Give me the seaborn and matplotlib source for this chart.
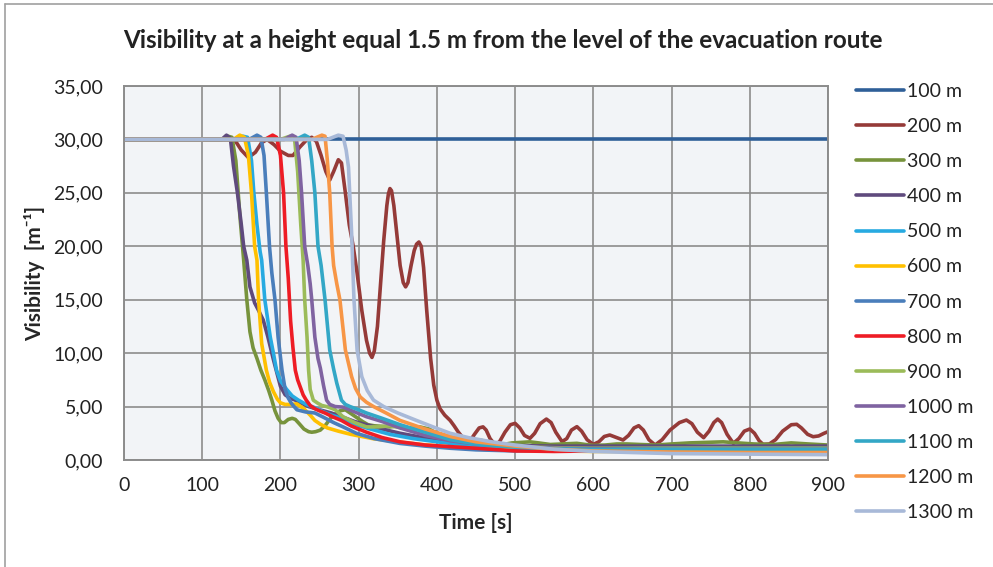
import matplotlib
matplotlib.use("Agg")
import matplotlib.pyplot as plt
from matplotlib.lines import Line2D
import seaborn as sns
import pandas as pd

# ---------------- data (time [s], visibility [m^-1]) ----------------
labels = ["100 m", "200 m", "300 m", "400 m", "500 m", "600 m", "700 m",
          "800 m", "900 m", "1000 m", "1100 m", "1200 m", "1300 m"]

s100 = [(0, 30), (300, 30), (600, 30), (900, 30)]

s200 = [(0, 30), (135, 30), (142, 29.9), (150, 29.0), (159, 28.3), (168, 28.8), (176, 29.7),
        (183, 30.0), (192, 29.5), (200, 28.9), (210, 28.5), (216, 28.5), (225, 29.3), (234, 30.0),
        (240, 30.2), (246, 29.8), (252, 28.5), (258, 27.0), (263, 26.2), (268, 27.0), (274, 28.1),
        (278, 27.8), (283, 25.0), (288, 22.0), (293, 20.0), (298, 17.5), (304, 14.0), (310, 11.2),
        (314, 10.0), (317, 9.6), (320, 10.2), (324, 12.5), (328, 16.5), (332, 20.5), (336, 23.8),
        (338, 24.9), (340, 25.4), (342, 25.2), (345, 23.8), (349, 21.0), (353, 18.2), (357, 16.6),
        (360, 16.2), (363, 16.6), (367, 18.2), (371, 19.6), (374, 20.2), (377, 20.4), (380, 20.0),
        (383, 18.0), (387, 14.0), (392, 9.5), (396, 7.0), (400, 5.6), (404, 4.8), (410, 4.2),
        (417, 3.7), (422, 3.2), (427, 2.65), (433, 2.1), (438, 1.7), (443, 1.85), (448, 2.4),
        (454, 3.0), (459, 3.1), (463, 2.8), (468, 2.0), (474, 1.46), (480, 1.7), (487, 2.6),
        (494, 3.3), (500, 3.43), (506, 3.0), (512, 2.3), (519, 2.03), (525, 2.5), (532, 3.4),
        (540, 3.83), (546, 3.5), (552, 2.6), (560, 1.72), (566, 2.0), (572, 2.8), (579, 3.12),
        (585, 2.7), (592, 1.9), (600, 1.46), (607, 1.7), (614, 2.2), (621, 2.34), (628, 2.15),
        (638, 1.87), (645, 2.3), (652, 3.0), (658, 3.21), (664, 2.8), (671, 1.9), (679, 1.4),
        (688, 1.9), (698, 2.8), (710, 3.5), (719, 3.74), (726, 3.4), (733, 2.6), (741, 2.09),
        (748, 2.7), (754, 3.5), (759, 3.83), (764, 3.5), (771, 2.4), (779, 1.56), (786, 2.0),
        (793, 2.7), (800, 2.9), (806, 2.5), (812, 1.8), (817, 1.46), (825, 1.5), (833, 1.9),
        (842, 2.7), (853, 3.3), (860, 3.34), (866, 3.0), (874, 2.4), (881, 2.18), (888, 2.25),
        (895, 2.5), (900, 2.65)]

s300 = [(0, 30), (125, 30), (133, 30.3), (138, 30.2), (143, 28), (148, 23), (153, 18.7),
        (157, 15), (161, 12), (165, 10.5), (170, 9.5), (175, 8.4), (180, 7.5), (185, 6.5),
        (189, 5.6), (193, 4.6), (197, 3.9), (201, 3.5), (205, 3.5), (210, 3.8), (215, 3.9),
        (219, 3.8), (224, 3.4), (230, 2.9), (236, 2.65), (240, 2.6), (245, 2.65), (251, 2.8),
        (258, 3.3), (264, 3.9), (270, 4.3), (276, 4.6), (283, 4.7), (289, 4.4), (297, 4.0),
        (305, 3.6), (312, 3.3), (320, 3.2), (330, 3.15), (340, 3.1), (350, 3.2), (360, 2.9),
        (368, 2.8), (378, 3.1), (390, 2.9), (400, 2.5), (410, 2.3), (420, 2.1), (430, 2.0),
        (441, 1.9), (455, 1.87), (465, 1.7), (474, 1.4), (485, 1.45), (496, 1.6), (508, 1.65),
        (519, 1.7), (530, 1.6), (545, 1.45), (560, 1.5), (579, 1.56), (590, 1.45), (600, 1.37),
        (615, 1.4), (630, 1.5), (643, 1.5), (660, 1.45), (680, 1.4), (700, 1.5), (723, 1.6),
        (745, 1.65), (766, 1.7), (785, 1.6), (805, 1.5), (830, 1.45), (853, 1.6), (875, 1.5),
        (900, 1.4)]

s400 = [(0, 30), (125, 30), (131, 30.4), (136, 30.1), (140, 27.5), (145, 25), (150, 22),
        (153, 20), (157, 18.7), (161, 16.2), (167, 14.7), (172, 14), (178, 13.1), (184, 11.5),
        (191, 9.4), (196, 8), (200, 6.9), (206, 6.1), (212, 5.8), (219, 5.6), (227, 5.3),
        (236, 5.0), (245, 4.8), (255, 4.6), (265, 4.4), (280, 4.0), (295, 3.6), (310, 3.3),
        (330, 2.9), (353, 2.5), (375, 2.2), (395, 1.9), (417, 1.7), (440, 1.5), (470, 1.4),
        (500, 1.35), (550, 1.3), (600, 1.3), (700, 1.3), (800, 1.3), (900, 1.3)]

s500 = [(0, 30), (145, 30), (152, 30.3), (158, 30.2), (163, 28), (166, 25), (170, 22),
        (174, 19.5), (176, 18.7), (180, 15), (184, 13), (187, 11.5), (191, 10), (195, 8.4),
        (200, 7.4), (208, 6.6), (215, 6.0), (223, 5.6), (233, 5.2), (244, 4.9), (255, 4.5),
        (265, 4.2), (274, 4.0), (289, 3.5), (310, 3.0), (340, 2.4), (370, 2.0), (400, 1.7),
        (430, 1.45), (470, 1.2), (500, 1.05), (550, 1.0), (600, 1.0), (700, 1.0), (800, 1.0),
        (900, 1.0)]

s600 = [(0, 30), (140, 30), (148, 30.4), (154, 30.2), (159, 28.5), (163, 25), (167, 20),
        (170, 18.7), (172, 15), (176, 10.9), (182, 8.4), (186, 7.3), (191, 6.4), (196, 5.7),
        (200, 5.35), (206, 5.2), (213, 5.2), (221, 5.25), (230, 4.8), (238, 4.2), (244, 3.7),
        (251, 3.35), (260, 3.0), (274, 2.7), (290, 2.4), (318, 2.0), (350, 1.7), (380, 1.45),
        (420, 1.2), (460, 1.0), (500, 0.9), (550, 0.85), (600, 0.8), (700, 0.8), (800, 0.8),
        (900, 0.8)]

s700 = [(0, 30), (160, 30), (170, 30.4), (175, 30.2), (179, 28.5), (182, 25), (186, 20),
        (189, 17.5), (193, 15), (197, 11.5), (202, 8.4), (206, 6.6), (210, 5.8), (214, 5.3),
        (221, 4.7), (232, 4.5), (244, 4.4), (255, 4.0), (268, 3.5), (280, 3.1), (297, 2.5),
        (320, 2.0), (353, 1.55), (385, 1.3), (417, 1.1), (450, 0.95), (500, 0.85), (550, 0.95),
        (600, 1.05), (700, 1.1), (800, 1.1), (900, 1.1)]

s800 = [(0, 30), (180, 30), (190, 30.4), (195, 30.2), (200, 28.5), (204, 25), (207, 20),
        (210, 17), (213, 13), (216, 10.5), (219, 8.4), (222, 7.5), (225, 6.9), (229, 6.1),
        (233, 5.6), (238, 5.1), (244, 4.8), (250, 4.6), (257, 4.4), (268, 4.0), (278, 3.7),
        (290, 3.2), (310, 2.6), (330, 2.1), (353, 1.7), (385, 1.4), (417, 1.25), (450, 1.1),
        (500, 0.85), (550, 0.8), (600, 0.85), (700, 0.9), (800, 0.9), (900, 0.9)]

s900 = [(0, 30), (200, 30), (212, 30.3), (218, 30.1), (222, 27), (226, 22), (229, 18.7),
        (231, 15), (234, 11.5), (236, 8.4), (238, 6.6), (242, 5.6), (248, 5.3), (253, 5.1),
        (259, 5.0), (265, 4.85), (270, 4.7), (280, 4.05), (295, 3.5), (310, 3.1), (325, 3.1),
        (340, 3.2), (355, 3.0), (374, 3.0), (395, 2.5), (417, 2.0), (440, 1.7), (470, 1.4),
        (500, 1.25), (550, 1.15), (600, 1.1), (700, 1.1), (800, 1.1), (900, 1.1)]

s1000 = [(0, 30), (205, 30), (215, 30.4), (220, 30.2), (224, 28), (227, 25), (231, 20),
         (235, 18.2), (238, 16.5), (240, 15), (244, 11.5), (248, 9.5), (251, 8.6), (255, 7),
         (259, 5.6), (263, 5.2), (270, 5.0), (280, 4.95), (295, 4.5), (310, 4.05), (330, 3.6),
         (353, 3.0), (385, 2.3), (417, 1.8), (450, 1.5), (500, 1.25), (550, 1.1), (600, 1.05),
         (700, 1.0), (800, 1.0), (900, 1.0)]

s1100 = [(0, 30), (220, 30), (231, 30.4), (236, 30.2), (240, 28), (244, 25), (248, 20),
         (252, 18.2), (257, 15), (263, 10.3), (268, 8.5), (272, 7.2), (278, 5.6), (283, 5.2),
         (289, 5.0), (300, 4.7), (310, 4.4), (330, 3.9), (353, 3.3), (385, 2.6), (417, 1.9),
         (450, 1.5), (500, 1.2), (550, 1.05), (600, 1.0), (700, 1.0), (800, 1.0), (900, 1.0)]

s1200 = [(0, 30), (240, 30), (253, 30.4), (257, 30.3), (260, 28), (263, 25), (266, 20),
         (268, 18.2), (272, 16.5), (276, 15), (283, 10.3), (291, 7.8), (296, 6.7), (302, 5.9),
         (310, 5.4), (319, 5.0), (335, 4.4), (353, 3.7), (385, 2.9), (417, 2.2), (450, 1.7),
         (500, 1.3), (550, 1.0), (600, 0.85), (700, 0.75), (800, 0.7), (900, 0.7)]

s1300 = [(0, 30), (260, 30), (274, 30.4), (280, 30.3), (284, 29), (287, 27.4), (291, 21.2),
         (294, 15), (298, 10.3), (304, 7.8), (311, 6.5), (319, 5.6), (332, 5.0), (350, 4.4),
         (374, 3.7), (395, 3.1), (417, 2.5), (440, 2.1), (470, 1.7), (500, 1.4), (550, 1.0),
         (600, 0.8), (700, 0.6), (800, 0.55), (900, 0.5)]

series = [s100, s200, s300, s400, s500, s600, s700, s800, s900, s1000, s1100, s1200, s1300]

colors = ["#2F5F98", "#953A38", "#77933C", "#5F4A7D", "#27AAE1", "#FFC000", "#4A7EBB",
          "#EE1C25", "#9BBB59", "#7F63A1", "#33A7C6", "#F79646", "#A8B9D8"]

x_ticks = [0, 100, 200, 300, 400, 500, 600, 700, 800, 900]
y_ticks = [0, 5, 10, 15, 20, 25, 30, 35]

# ---------------- build long-form table ----------------
rows = []
for lab, s in zip(labels, series):
    for t, v in s:
        rows.append({"Time": t, "Visibility": v, "Series": lab})
df = pd.DataFrame(rows)

sns.set_style("white")
font = ["Lato", "DejaVu Sans"]
plt.rcParams["font.family"] = font
plt.rcParams["text.color"] = "#222222"

fig = plt.figure(figsize=(9.93, 5.67), dpi=100)
ax = fig.add_axes([124 / 993, 1 - 460 / 567, (828 - 124) / 993, (460 - 86) / 567])
ax.set_facecolor("#F2F4F7")

pal = dict(zip(labels, colors))
sns.lineplot(data=df, x="Time", y="Visibility", hue="Series", hue_order=labels,
             palette=pal, estimator=None, sort=False, linewidth=2.6, legend=False, ax=ax)
for ln in ax.lines:
    ln.set_solid_joinstyle("round")
    ln.set_solid_capstyle("round")

ax.set_xlim(0, 900)
ax.set_ylim(0, 35)
ax.set_xticks(x_ticks)
ax.set_yticks(y_ticks)
ax.set_xticklabels([str(x) for x in x_ticks])
ax.set_yticklabels([f"{y:.2f}".replace(".", ",") for y in y_ticks])
ax.grid(True, color="#8C8C8C", linewidth=1.2)
ax.set_axisbelow(True)
for side, sp in ax.spines.items():
    sp.set_color("#8C8C8C")
    sp.set_linewidth(1.4)
ax.tick_params(axis="both", length=0, labelsize=14, colors="#222222")
ax.tick_params(axis="y", pad=15)
ax.tick_params(axis="x", pad=12)

ax.set_xlabel("Time [s]", fontsize=15, fontweight="bold", labelpad=14)
ax.set_ylabel("Visibility  [m\u207b\u00b9]", fontsize=15, fontweight="bold", labelpad=6,
              family=["Lato", "DejaVu Sans"])

fig.text(0.506, 1 - 40 / 567, "Visibility at a height equal 1.5 m from the level of the evacuation route",
         ha="center", va="center", fontsize=17.5, fontweight="bold")

handles = [Line2D([0], [0], color=c, linewidth=2.6) for c in colors]
fig.legend(handles, labels, loc="upper left", bbox_to_anchor=(856 / 993, 1 - 83 / 567),
           frameon=False, fontsize=14, handlelength=2.45, handletextpad=0.15,
           labelspacing=0.93, borderpad=0, borderaxespad=0)

# outer chart frame
fig.add_artist(Line2D([5 / 993, 1.0], [1 - 4 / 567, 1 - 4 / 567], color="#A0A0A0", linewidth=1.2))
fig.add_artist(Line2D([5 / 993, 5 / 993], [0, 1 - 4 / 567], color="#A0A0A0", linewidth=1.2))

fig.savefig("out.png", dpi=100)
